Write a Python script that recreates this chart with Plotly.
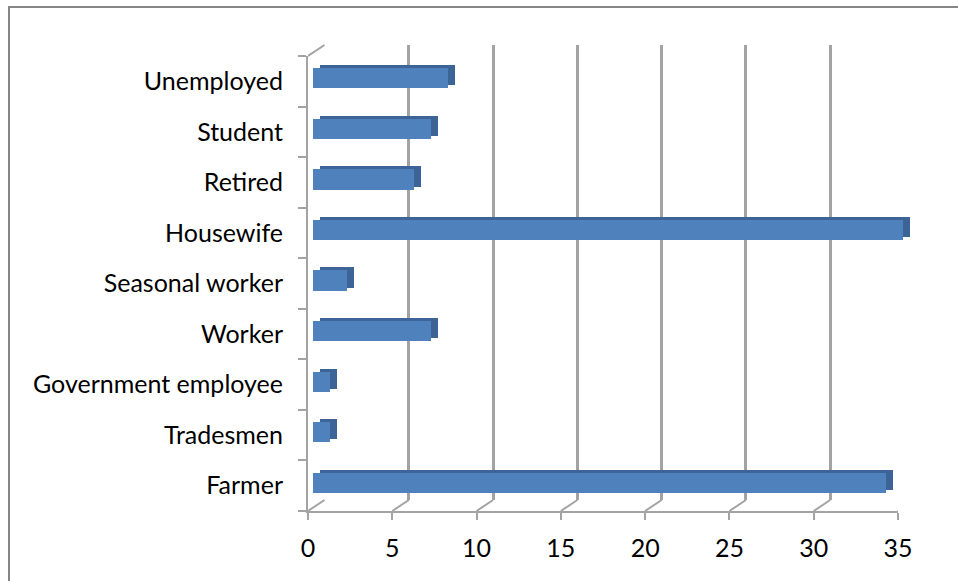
import plotly.graph_objects as go

# data (bottom to top, as drawn)
categories = ["Farmer", "Tradesmen", "Government employee", "Worker",
              "Seasonal worker", "Housewife", "Retired", "Student", "Unemployed"]
counts = [34, 1, 1, 7, 2, 35, 6, 7, 8]
x_ticks = [0, 5, 10, 15, 20, 25, 30, 35]

W, H = 958, 581
FONT = dict(family="Lato, Calibri, sans-serif", size=25, color="black")
GRID = "#a3a3a3"
FRONT = "#4f81bd"
SIDE = "#3c6496"


def px(x):
    return x / W


def py(y):
    return 1 - y / H


# front plane (axes with labels), back plane (grid), bar faces
front = dict(x=(308, 898), y=(56, 511))
depth = (16.5, 11)
face_off = (5, 3)
side_off = (7, 3)


def dom(box, dx=0, dy=0):
    return ([px(box["x"][0] + dx), px(box["x"][1] + dx)],
            [py(box["y"][1] - dy), py(box["y"][0] - dy)])


fig = go.Figure()

# invisible trace so the front axes have something to hold
fig.add_trace(go.Scatter(x=counts, y=categories, mode="markers",
                         marker=dict(opacity=0), hoverinfo="skip",
                         showlegend=False, xaxis="x", yaxis="y"))
# back wall grid
fig.add_trace(go.Scatter(x=counts, y=categories, mode="markers",
                         marker=dict(opacity=0), hoverinfo="skip",
                         showlegend=False, xaxis="x2", yaxis="y2"))
# side / top face of the bars
fig.add_trace(go.Bar(x=counts, y=categories, orientation="h", width=0.4,
                     marker=dict(color=SIDE, line=dict(width=0)),
                     showlegend=False, xaxis="x3", yaxis="y3"))
# front face of the bars
fig.add_trace(go.Bar(x=counts, y=categories, orientation="h", width=0.4,
                     marker=dict(color=FRONT, line=dict(width=0)),
                     showlegend=False, xaxis="x4", yaxis="y4"))

fx, fy = dom(front)
bx, by = dom(front, depth[0], depth[1])
cx, cy = dom(front, face_off[0], face_off[1])
sx, sy = dom(front, face_off[0] + side_off[0], face_off[1] + side_off[1])

hidden = dict(range=[0, 35], showgrid=False, zeroline=False, automargin=False,
              showticklabels=False, ticks="", showline=False)
hidden_y = dict(type="category", categoryorder="array", categoryarray=categories,
                range=[-0.5, len(categories) - 0.5], showgrid=False,
                automargin=False, zeroline=False, showticklabels=False,
                ticks="", showline=False)

fig.update_layout(
    template="none",
    width=W, height=H,
    autosize=False,
    margin=dict(l=0, r=0, t=0, b=0, pad=0),
    paper_bgcolor="white",
    plot_bgcolor="rgba(0,0,0,0)",
    font=FONT,
    bargap=0,
    xaxis=dict(domain=fx, anchor="y", range=[0, 35], tickvals=x_ticks,
               showgrid=False, zeroline=False, showline=True, automargin=False,
               linecolor=GRID, linewidth=2, ticks="outside", ticklen=7,
               tickcolor=GRID, tickwidth=2, tickfont=FONT,
               ticklabelstandoff=7),
    yaxis=dict(domain=fy, anchor="x", type="category", categoryorder="array",
               categoryarray=categories, range=[-0.5, len(categories) - 0.5],
               showgrid=False, zeroline=False, showline=True, automargin=False,
               linecolor=GRID, linewidth=2, ticks="outside", ticklen=8,
               tickcolor=GRID, tickwidth=2, tickson="boundaries",
               tickfont=FONT, ticklabelstandoff=18),
    xaxis2=dict(domain=bx, anchor="y2", range=[0, 35], tickvals=x_ticks,
                showgrid=True, gridcolor=GRID, gridwidth=2.5, zeroline=False,
                automargin=False, showticklabels=False, ticks="",
                showline=False),
    yaxis2=dict(hidden_y, domain=by, anchor="x2"),
    xaxis3=dict(hidden, domain=sx, anchor="y3"),
    yaxis3=dict(hidden_y, domain=sy, anchor="x3"),
    xaxis4=dict(hidden, domain=cx, anchor="y4"),
    yaxis4=dict(hidden_y, domain=cy, anchor="x4"),
)

# floor edges running from each front tick back to the wall grid
shapes = []
for t in x_ticks:
    shapes.append(dict(type="line", xref="x", yref="paper",
                       xsizemode="pixel", xanchor=t, x0=0, x1=depth[0],
                       ysizemode="pixel", yanchor=fy[0], y0=0, y1=depth[1],
                       line=dict(color=GRID, width=2)))
# top edge of the left wall
shapes.append(dict(type="line", xref="x", yref="paper",
                   xsizemode="pixel", xanchor=0, x0=0, x1=depth[0],
                   ysizemode="pixel", yanchor=fy[1], y0=0, y1=depth[1],
                   line=dict(color=GRID, width=2)))
# chart border
shapes.append(dict(type="rect", xref="paper", yref="paper",
                   x0=px(9), x1=1.2, y0=-0.2, y1=py(7),
                   line=dict(color="#868686", width=2)))
fig.update_layout(shapes=shapes)

# drop the default body margin so the figure sits in the window corner
fig.write_html("out.html", config={"displayModeBar": False},
               post_script="document.body.style.margin = '0';")
